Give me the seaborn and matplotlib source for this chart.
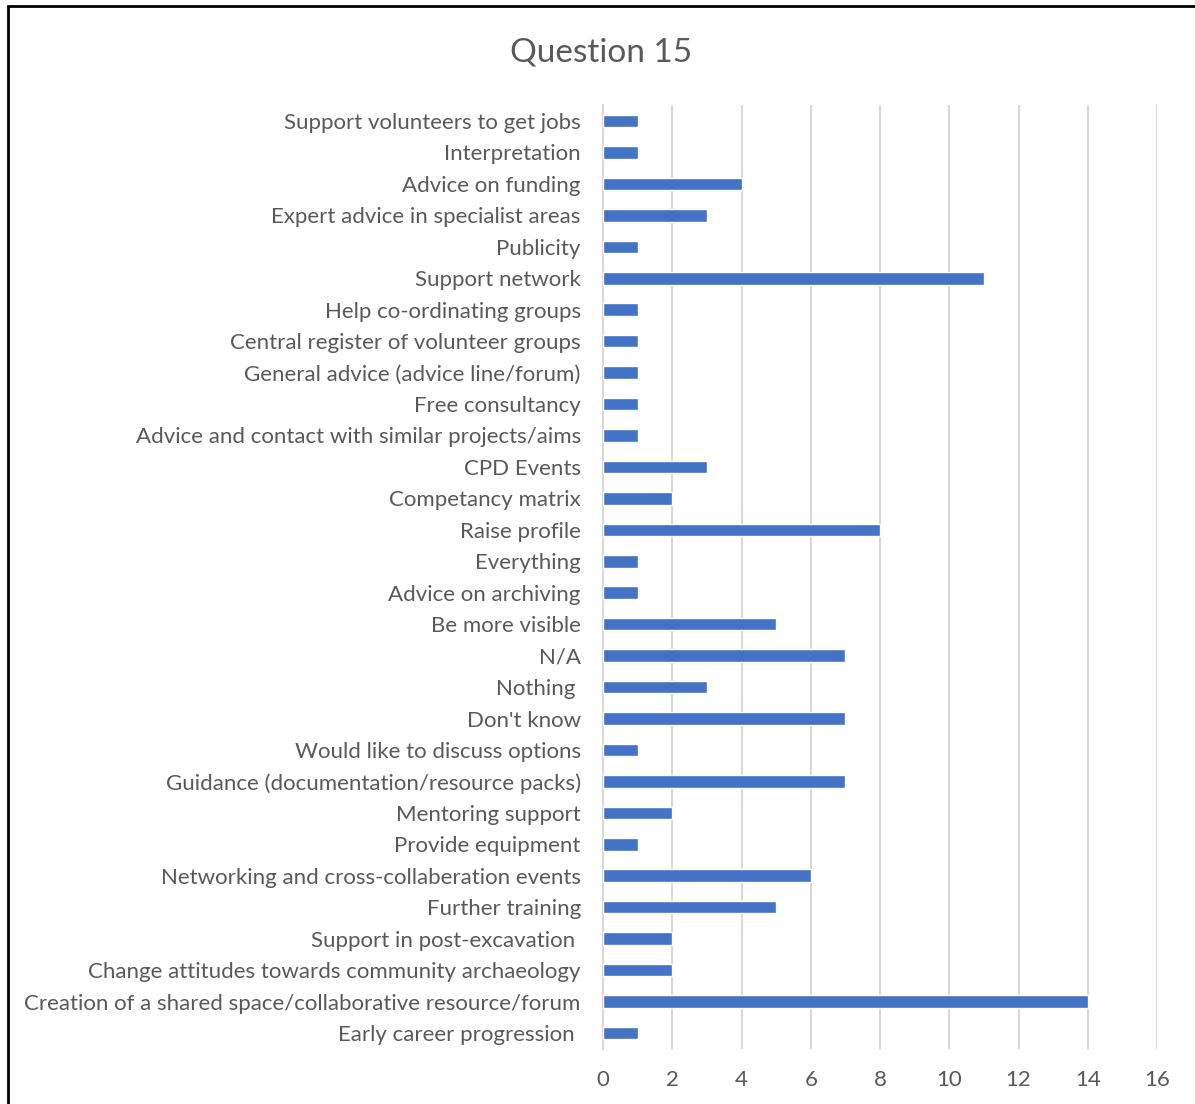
import matplotlib
matplotlib.use("Agg")
import matplotlib.pyplot as plt
import seaborn as sns
import pandas as pd
from matplotlib.patches import Rectangle

categories = [
    "Support volunteers to get jobs",
    "Interpretation",
    "Advice on funding",
    "Expert advice in specialist areas",
    "Publicity",
    "Support network",
    "Help co-ordinating groups",
    "Central register of volunteer groups",
    "General advice (advice line/forum)",
    "Free consultancy",
    "Advice and contact with similar projects/aims",
    "CPD Events",
    "Competancy matrix",
    "Raise profile",
    "Everything",
    "Advice on archiving",
    "Be more visible",
    "N/A",
    "Nothing ",
    "Don't know",
    "Would like to discuss options",
    "Guidance (documentation/resource packs)",
    "Mentoring support",
    "Provide equipment",
    "Networking and cross-collaberation events",
    "Further training",
    "Support in post-excavation ",
    "Change attitudes towards community archaeology",
    "Creation of a shared space/collaborative resource/forum",
    "Early career progression ",
]
counts = [1, 1, 4, 3, 1, 11, 1, 1, 1, 1, 1, 3, 2, 8, 1, 1, 5, 7, 3, 7,
          1, 7, 2, 1, 6, 5, 2, 2, 14, 1]
x_ticks = [0, 2, 4, 6, 8, 10, 12, 14, 16]

df = pd.DataFrame({"answer": categories, "count": counts})

sns.set_theme(style="white")
plt.rcParams["font.family"] = ["Lato", "DejaVu Sans"]

fig = plt.figure(figsize=(11.95, 11.04), dpi=100)
ax = fig.add_axes([603 / 1195, 1 - 1048.7 / 1104, (1157 - 603) / 1195, (1048.7 - 105.3) / 1104])

sns.barplot(data=df, x="count", y="answer", order=categories, orient="h",
            color="#4472C4", saturation=1, width=0.4, ax=ax, zorder=3)

ax.set_xlim(0, 16)
ax.set_xticks(x_ticks)
ax.set_xlabel("")
ax.set_ylabel("")
ax.grid(axis="x", color="#d9d9d9", linewidth=1.5, zorder=0)
ax.set_axisbelow(True)
for side in ["top", "right", "bottom"]:
    ax.spines[side].set_visible(False)
ax.spines["left"].set_color("#d9d9d9")
ax.spines["left"].set_linewidth(1.5)
ax.tick_params(axis="both", length=0, colors="#595959", labelsize=16)
ax.tick_params(axis="y", pad=16)
ax.tick_params(axis="x", pad=15)

fig.text(0.503, 1 - 52 / 1104, "Question 15", ha="center", va="center",
         fontsize=24, color="#595959")

# outer frame
fig.patches.append(Rectangle((8 / 1195, -0.05), 1.1, 1 - 6 / 1104 + 0.05,
                             transform=fig.transFigure, fill=False,
                             edgecolor="black", linewidth=2))

fig.savefig("out.png", dpi=100)
